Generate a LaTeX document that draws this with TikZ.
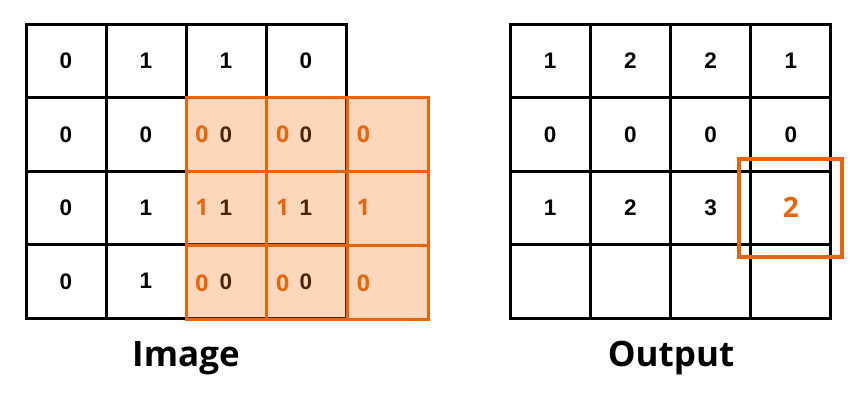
\documentclass[tikz,border=0pt]{standalone}
\usepackage{fontspec}
\setmainfont{Liberation Sans}
\newfontfamily\osans{Open Sans}
\definecolor{orng}{RGB}{234,100,12}
\definecolor{peach}{RGB}{250,125,35}
\begin{document}
\begin{tikzpicture}[x=1pt,y=-1pt,
  cell/.style={draw=black,line width=3pt,minimum width=80pt,minimum height=73.5pt,inner sep=0pt,outer sep=0pt,font=\fontsize{22.5}{22.5}\selectfont\bfseries},
  ocell/.style={draw=orng,line width=3pt,minimum width=80.7pt,minimum height=74.3pt,inner sep=0pt,outer sep=0pt},
  odig/.style={inner sep=0pt,text=orng,font=\osans\fontsize{23}{23}\selectfont\bfseries},
  bigdig/.style={inner sep=0pt,text=orng,font=\osans\fontsize{28}{28}\selectfont\bfseries},
  obox/.style={draw=orng,line width=4pt,minimum width=103pt,minimum height=98pt,inner sep=0pt,outer sep=0pt},
  lbl/.style={inner sep=0pt,font=\osans\fontsize{35}{35}\selectfont\bfseries}]
\useasboundingbox[fill=white] (0,0) rectangle (860,400);
% ---- Image grid ----
\foreach \r/\vals in {1/{0,1,1,0},2/{0,0,0,0},3/{0,1,1,1},4/{0,1,0,0}}{
  \foreach \v [count=\c] in \vals {
    \node[cell] (i\r\c) at ({26+80*(\c-0.5)},{24+73.5*(\r-0.5)}) {\v};
  }
}
% orange overlay
\coordinate (onw) at (186,97);
\coordinate (ose) at (428,320);
\fill[peach,fill opacity=0.3] (onw) rectangle (ose);
\foreach \r in {1,2,3}{
  \foreach \c in {1,2,3}{
    \node[ocell] (o\r\c) at ({186+80.7*(\c-0.5)},{97+74.3*(\r-0.5)}) {};
  }
}
\foreach \r/\v/\dy in {1/0/0,2/1/0,3/0/2}{
  \foreach \c in {1,2,3}{
    \node[odig] (od\r\c) at ([xshift=16pt,yshift=-\dy pt]o\r\c.west |- i\the\numexpr\r+1\relax 1.center) {\v};
  }
}
% ---- Output grid ----
\foreach \r/\vals in {1/{1,2,2,1},2/{0,0,0,0},3/{1,2,3,{}},4/{{},{},{},{}}}{
  \foreach \v [count=\c] in \vals {
    \node[cell] (p\r\c) at ({510+80.25*(\c-0.5)},{24+73.5*(\r-0.5)}) {\v};
  }
}
\node[bigdig] (res) at (p34.center) {2};
\node[obox] (win) at (790.5,208) {};
% ---- labels ----
\node[lbl] (limg) at (186,358) {Image};
\node[lbl] (lout) at (671,358) {Output};
\end{tikzpicture}
\end{document}
